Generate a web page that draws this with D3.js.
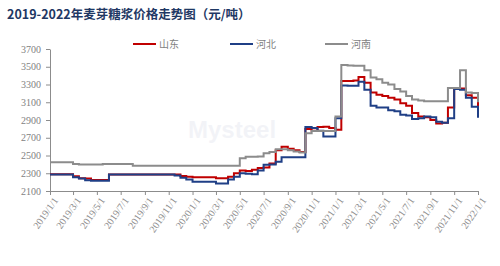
<!DOCTYPE html>
<html>
<head>
<meta charset="utf-8">
<script src="https://cdn.jsdelivr.net/npm/d3@7"></script>
<style>
  body { margin: 0; background: #fff; }
  svg { display: block; }
</style>
</head>
<body>
<div id="chart"></div>
<script>
'use strict';

// half-month sample dates
var dates = [
  '2019-01-01', '2019-01-16', '2019-02-01', '2019-02-16', '2019-03-01', '2019-03-16',
  '2019-04-01', '2019-04-16', '2019-05-01', '2019-05-16', '2019-06-01', '2019-06-16',
  '2019-07-01', '2019-07-16', '2019-08-01', '2019-08-16', '2019-09-01', '2019-09-16',
  '2019-10-01', '2019-10-16', '2019-11-01', '2019-11-16', '2019-12-01', '2019-12-16',
  '2020-01-01', '2020-01-16', '2020-02-01', '2020-02-16', '2020-03-01', '2020-03-16',
  '2020-04-01', '2020-04-16', '2020-05-01', '2020-05-16', '2020-06-01', '2020-06-16',
  '2020-07-01', '2020-07-16', '2020-08-01', '2020-08-16', '2020-09-01', '2020-09-16',
  '2020-10-01', '2020-10-16', '2020-11-01', '2020-11-16', '2020-12-01', '2020-12-16',
  '2021-01-01', '2021-01-16', '2021-02-01', '2021-02-16', '2021-03-01', '2021-03-16',
  '2021-04-01', '2021-04-16', '2021-05-01', '2021-05-16', '2021-06-01', '2021-06-16',
  '2021-07-01', '2021-07-16', '2021-08-01', '2021-08-16', '2021-09-01', '2021-09-16',
  '2021-10-01', '2021-10-16', '2021-11-01', '2021-11-16', '2021-12-01', '2021-12-16',
  '2022-01-01'
]

var shandong = [
  2290, 2290, 2290, 2290, 2265, 2245, 2240, 2225, 2225, 2225, 2285, 2285,
  2285, 2285, 2285, 2285, 2285, 2285, 2285, 2285, 2285, 2285, 2270, 2260,
  2255, 2255, 2255, 2255, 2245, 2245, 2260, 2300, 2330, 2325, 2340, 2360,
  2365, 2410, 2560, 2600, 2575, 2560, 2540, 2800, 2780, 2820, 2825, 2810,
  2790, 3340, 3340, 3345, 3385, 3320, 3210, 3185, 3170, 3150, 3130, 3090,
  3060, 2980, 2940, 2930, 2900, 2860, 2870, 3040, 3255, 3255, 3180, 3150,
  3050
]

var hebei = [
  2285, 2285, 2285, 2285, 2255, 2240, 2220, 2215, 2215, 2215, 2285, 2285,
  2285, 2285, 2285, 2285, 2285, 2285, 2285, 2285, 2285, 2275, 2250, 2230,
  2205, 2205, 2205, 2205, 2185, 2185, 2230, 2260, 2300, 2295, 2290, 2330,
  2395, 2400, 2430, 2480, 2480, 2480, 2480, 2820, 2810, 2780, 2715, 2715,
  2920, 3290, 3285, 3285, 3330, 3240, 3060, 3040, 3040, 3010, 3000, 2960,
  2950, 2910, 2920, 2940, 2930, 2880, 2870, 2920, 3250, 3240, 3150, 3050,
  2925
]

var henan = [
  2425, 2425, 2425, 2425, 2405, 2400, 2400, 2400, 2400, 2405, 2405, 2405,
  2405, 2405, 2385, 2385, 2385, 2385, 2385, 2385, 2385, 2385, 2385, 2385,
  2385, 2385, 2385, 2385, 2385, 2385, 2385, 2385, 2470, 2485, 2485, 2490,
  2525, 2540, 2570, 2570, 2560, 2545, 2535, 2750, 2775, 2775, 2775, 2775,
  2940, 3520, 3515, 3510, 3510, 3460, 3380, 3360, 3320, 3300, 3250, 3220,
  3170, 3130, 3120, 3110, 3110, 3110, 3110, 3260, 3260, 3460, 3210, 3205,
  3100
]

var seriesNames = ['山东', '河北', '河南']
var seriesColors = ['#c00000', '#1f3f86', '#8c8c8c']
var yTicks = [2100, 2300, 2500, 2700, 2900, 3100, 3300, 3500, 3700]
var title = '2019-2022年麦芽糖浆价格走势图（元/吨）'

var width = 500
var height = 266
var padding = { left: 50, right: 22, top: 49, bottom: 75 }

var svg = d3.select('#chart').append('svg')
  .attr('width', width).attr('height', height)

var parse = d3.timeParse('%Y-%m-%d')
var dateObjs = dates.map(parse)

var xScale = d3.scaleTime()
  .domain([parse('2019-01-01'), parse('2022-01-01')])
  .range([padding.left, width - padding.right])
var yScale = d3.scaleLinear()
  .domain([2100, 3700])
  .range([height - padding.bottom, padding.top])

// title
svg.append('text')
  .attr('x', 7).attr('y', 19)
  .style('font-family', '"Noto Sans CJK SC", sans-serif')
  .style('font-weight', 'bold')
  .style('font-size', '12.5px')
  .style('fill', '#1f3864')
  .text(title)

// watermark
svg.append('text')
  .attr('x', 188).attr('y', 138)
  .style('font-family', 'Arial, sans-serif')
  .style('font-weight', 'bold')
  .style('font-size', '24px')
  .style('fill', '#9aa3c4')
  .style('opacity', 0.12)
  .text('Mysteel')

// axes
var yAxis = d3.axisLeft(yScale)
  .tickValues(yTicks)
  .tickFormat(d3.format('d'))
  .tickSize(4).tickSizeOuter(0)
var xAxis = d3.axisBottom(xScale)
  .ticks(d3.timeMonth.every(2))
  .tickFormat(d3.timeFormat('%Y/%-m/%-d'))
  .tickSize(4).tickSizeOuter(0)

var gy = svg.append('g')
  .attr('transform', 'translate(' + padding.left + ',0)')
  .call(yAxis)
gy.selectAll('text')
  .attr('x', -9)
  .style('font-family', '"Liberation Serif", serif')
  .style('font-size', '10px')
  .style('fill', '#7f7f7f')

var gx = svg.append('g')
  .attr('transform', 'translate(0,' + (height - padding.bottom) + ')')
  .call(xAxis)
gx.selectAll('text')
  .attr('text-anchor', 'end')
  .attr('dx', '-0.3em')
  .attr('dy', '0.7em')
  .attr('transform', 'rotate(-55)')
  .attr('y', 5)
  .attr('x', 0)
  .style('font-family', '"Liberation Serif", serif')
  .style('font-size', '10px')
  .style('fill', '#8c8c8c')

svg.selectAll('.domain, .tick line').style('stroke', '#8c8c8c')

// lines
var line = d3.line()
  .curve(d3.curveStepAfter)
  .x(function(d) { return xScale(d.date) })
  .y(function(d) { return yScale(d.value) })

var allSeries = [shandong, hebei, henan]
allSeries.forEach(function(vals, k) {
  var pts = vals.map(function(v, i) { return { date: dateObjs[i], value: v } })
  svg.append('path')
    .datum(pts)
    .attr('d', line)
    .style('fill', 'none')
    .style('stroke', seriesColors[k])
    .style('stroke-width', 2)
})

// legend
var legendX = [133, 230, 325]
seriesNames.forEach(function(name, k) {
  svg.append('line')
    .attr('x1', legendX[k]).attr('x2', legendX[k] + 23)
    .attr('y1', 44).attr('y2', 44)
    .style('stroke', seriesColors[k])
    .style('stroke-width', 2)
  svg.append('text')
    .attr('x', legendX[k] + 26).attr('y', 47.5)
    .style('font-family', '"Noto Sans CJK SC", sans-serif')
    .style('font-size', '10px')
    .style('fill', '#7f7f7f')
    .text(name)
})
</script>
</body>
</html>
